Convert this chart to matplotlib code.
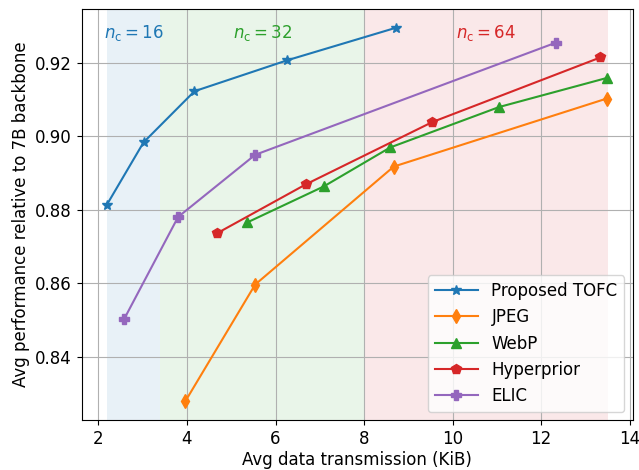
import numpy as np
import matplotlib
matplotlib.use("Agg")
import matplotlib.pyplot as plt

# data
tofc_x = [2.19, 3.02, 4.17, 6.26, 8.73]
tofc_y = [0.8814, 0.8984, 0.9123, 0.9207, 0.9296]
jpeg_x = [3.96, 5.54, 8.67, 13.48]
jpeg_y = [0.8279, 0.8597, 0.8918, 0.9103]
webp_x = [5.36, 7.09, 8.59, 11.05, 13.48]
webp_y = [0.8766, 0.8864, 0.8970, 0.9080, 0.9159]
hyper_x = [4.67, 6.69, 9.54, 13.34]
hyper_y = [0.8736, 0.8870, 0.9039, 0.9215]
elic_x = [2.58, 3.80, 5.54, 12.33]
elic_y = [0.8503, 0.8781, 0.8950, 0.9255]

spans = [(2.2, 3.4), (3.4, 8.0), (8.0, 13.5)]
span_labels = ["16", "32", "64"]
span_colors = ["tab:blue", "tab:green", "tab:red"]

plt.rcParams['font.size'] = 12
fig, ax = plt.subplots(figsize=(6.39, 4.70), dpi=100)

for (a, b), c in zip(spans, span_colors):
    ax.axvspan(a, b, color=c, alpha=0.1, lw=0)

ax.plot(tofc_x, tofc_y, marker='*', ms=7, label='Proposed TOFC', color='tab:blue')
ax.plot(jpeg_x, jpeg_y, marker='d', ms=7, label='JPEG', color='tab:orange')
ax.plot(webp_x, webp_y, marker='^', ms=7, label='WebP', color='tab:green')
ax.plot(hyper_x, hyper_y, marker='p', ms=7, label='Hyperprior', color='tab:red')
ax.plot(elic_x, elic_y, marker='P', ms=7, label='ELIC', color='tab:purple')

for (a, b), lab, c in zip(spans, span_labels, span_colors):
    ax.text((a + b) / 2, 0.9282, r'$n_\mathrm{c}=' + lab + '$', color=c,
            ha='center', va='center', fontsize=12)

ax.set_xlabel('Avg data transmission (KiB)', labelpad=2)
ax.set_ylabel('Avg performance relative to 7B backbone')
ax.grid(True)
ax.legend(loc='lower right', handlelength=2.6)

plt.subplots_adjust(left=0.128, right=0.99, top=0.981, bottom=0.106)
plt.savefig('out.png')
